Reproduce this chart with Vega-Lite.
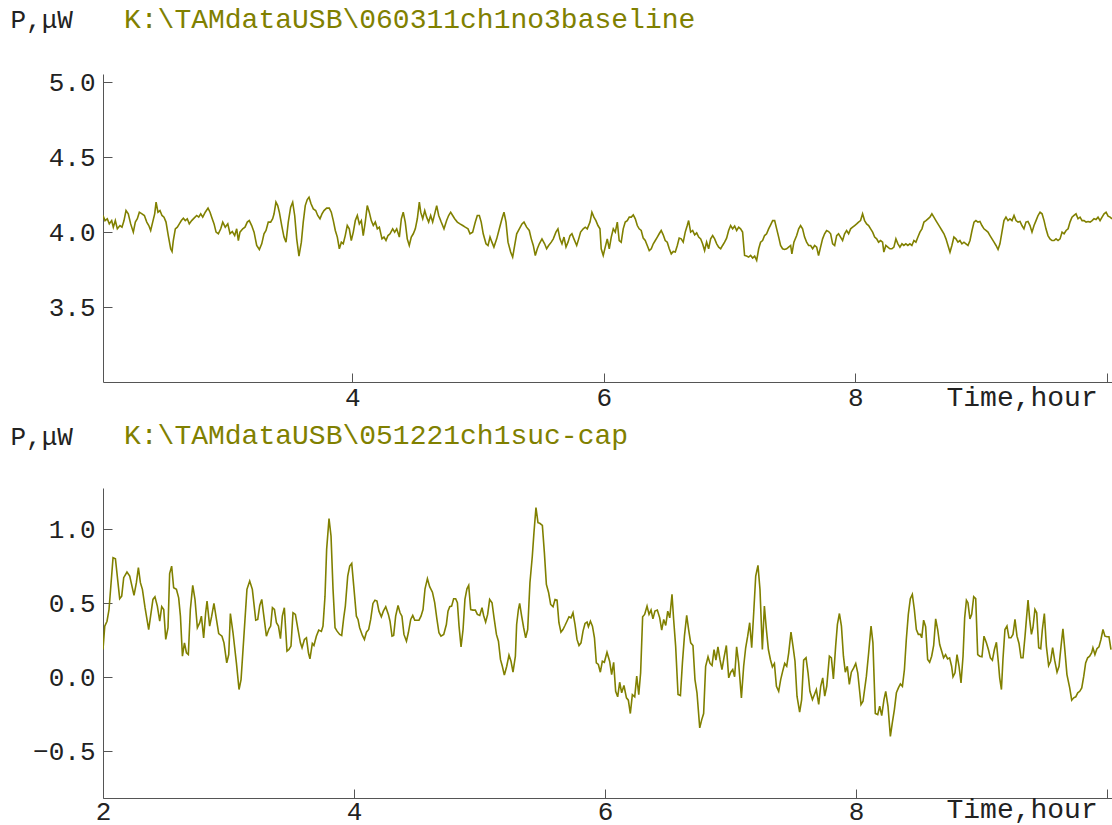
{
"$schema": "https://vega.github.io/schema/vega-lite/v6.json",
"background": "white",
"padding": {"left": 10, "top": 6, "right": 0, "bottom": 0},
"spacing": 11,
"config": {
  "view": {"stroke": null},
  "font": "Liberation Mono",
  "axis": {"domainColor": "#555555", "tickColor": "#555555", "labelFont": "Liberation Mono", "labelFontSize": 26, "labelColor": "#222222", "grid": false, "tickSize": -9, "titleFont": "Liberation Mono", "titleFontSize": 26, "titleFontWeight": "normal", "titleColor": "#222222", "domainWidth": 1, "tickWidth": 1, "labelFlush": false, "labelOverlap": false}
},
"datasets": {
"top": [{"t":2.018,"p":4.111},{"t":2.034,"p":4.077},{"t":2.052,"p":4.089},{"t":2.068,"p":4.055},{"t":2.087,"p":4.077},{"t":2.100,"p":4.033},{"t":2.116,"p":4.077},{"t":2.132,"p":4.022},{"t":2.153,"p":4.044},{"t":2.169,"p":4.033},{"t":2.185,"p":4.077},{"t":2.201,"p":4.144},{"t":2.219,"p":4.122},{"t":2.238,"p":4.055},{"t":2.259,"p":4.000},{"t":2.275,"p":4.067},{"t":2.291,"p":4.089},{"t":2.307,"p":4.133},{"t":2.328,"p":4.122},{"t":2.347,"p":4.111},{"t":2.366,"p":4.067},{"t":2.382,"p":4.044},{"t":2.397,"p":4.011},{"t":2.413,"p":4.067},{"t":2.429,"p":4.122},{"t":2.440,"p":4.200},{"t":2.455,"p":4.133},{"t":2.471,"p":4.144},{"t":2.487,"p":4.111},{"t":2.503,"p":4.100},{"t":2.519,"p":4.067},{"t":2.537,"p":3.977},{"t":2.556,"p":3.889},{"t":2.567,"p":3.871},{"t":2.577,"p":3.944},{"t":2.593,"p":4.022},{"t":2.609,"p":4.033},{"t":2.625,"p":4.055},{"t":2.641,"p":4.077},{"t":2.657,"p":4.093},{"t":2.672,"p":4.077},{"t":2.688,"p":4.089},{"t":2.704,"p":4.055},{"t":2.723,"p":4.077},{"t":2.742,"p":4.093},{"t":2.763,"p":4.111},{"t":2.779,"p":4.100},{"t":2.795,"p":4.122},{"t":2.811,"p":4.100},{"t":2.831,"p":4.133},{"t":2.853,"p":4.160},{"t":2.869,"p":4.133},{"t":2.885,"p":4.093},{"t":2.901,"p":4.055},{"t":2.917,"p":4.000},{"t":2.935,"p":3.989},{"t":2.954,"p":4.022},{"t":2.970,"p":4.067},{"t":2.990,"p":4.033},{"t":3.010,"p":4.055},{"t":3.028,"p":3.989},{"t":3.046,"p":4.004},{"t":3.065,"p":3.977},{"t":3.081,"p":4.022},{"t":3.094,"p":3.944},{"t":3.107,"p":4.000},{"t":3.129,"p":4.022},{"t":3.147,"p":4.033},{"t":3.165,"p":4.067},{"t":3.181,"p":4.077},{"t":3.200,"p":4.044},{"t":3.219,"p":4.000},{"t":3.240,"p":3.911},{"t":3.261,"p":3.884},{"t":3.280,"p":3.922},{"t":3.298,"p":3.989},{"t":3.314,"p":4.011},{"t":3.332,"p":4.067},{"t":3.351,"p":4.067},{"t":3.367,"p":4.089},{"t":3.378,"p":4.122},{"t":3.393,"p":4.200},{"t":3.407,"p":4.177},{"t":3.420,"p":4.133},{"t":3.439,"p":4.044},{"t":3.457,"p":3.967},{"t":3.473,"p":3.933},{"t":3.491,"p":4.067},{"t":3.510,"p":4.167},{"t":3.526,"p":4.200},{"t":3.542,"p":4.111},{"t":3.558,"p":3.955},{"t":3.576,"p":3.840},{"t":3.595,"p":3.933},{"t":3.610,"p":4.067},{"t":3.626,"p":4.177},{"t":3.642,"p":4.217},{"t":3.656,"p":4.233},{"t":3.672,"p":4.189},{"t":3.690,"p":4.155},{"t":3.709,"p":4.144},{"t":3.725,"p":4.111},{"t":3.743,"p":4.089},{"t":3.759,"p":4.122},{"t":3.775,"p":4.144},{"t":3.796,"p":4.160},{"t":3.817,"p":4.160},{"t":3.833,"p":4.133},{"t":3.849,"p":4.077},{"t":3.865,"p":4.011},{"t":3.881,"p":3.967},{"t":3.897,"p":3.889},{"t":3.913,"p":3.933},{"t":3.928,"p":3.922},{"t":3.944,"p":3.977},{"t":3.960,"p":4.044},{"t":3.976,"p":4.022},{"t":3.992,"p":3.944},{"t":4.008,"p":4.000},{"t":4.024,"p":4.077},{"t":4.040,"p":4.111},{"t":4.056,"p":4.055},{"t":4.072,"p":4.077},{"t":4.087,"p":3.977},{"t":4.103,"p":4.067},{"t":4.119,"p":4.177},{"t":4.135,"p":4.133},{"t":4.151,"p":4.077},{"t":4.167,"p":4.044},{"t":4.183,"p":4.067},{"t":4.199,"p":4.022},{"t":4.215,"p":4.033},{"t":4.236,"p":3.955},{"t":4.252,"p":3.967},{"t":4.268,"p":3.944},{"t":4.284,"p":3.977},{"t":4.300,"p":3.989},{"t":4.321,"p":4.022},{"t":4.337,"p":4.000},{"t":4.353,"p":4.022},{"t":4.374,"p":3.967},{"t":4.390,"p":4.089},{"t":4.405,"p":4.133},{"t":4.421,"p":4.067},{"t":4.437,"p":3.955},{"t":4.453,"p":3.911},{"t":4.469,"p":3.967},{"t":4.485,"p":3.989},{"t":4.501,"p":4.022},{"t":4.517,"p":4.089},{"t":4.533,"p":4.200},{"t":4.544,"p":4.133},{"t":4.560,"p":4.089},{"t":4.576,"p":4.144},{"t":4.591,"p":4.100},{"t":4.607,"p":4.067},{"t":4.623,"p":4.111},{"t":4.639,"p":4.067},{"t":4.655,"p":4.122},{"t":4.671,"p":4.177},{"t":4.687,"p":4.111},{"t":4.707,"p":4.067},{"t":4.729,"p":4.022},{"t":4.750,"p":4.077},{"t":4.766,"p":4.111},{"t":4.782,"p":4.133},{"t":4.798,"p":4.111},{"t":4.814,"p":4.089},{"t":4.835,"p":4.067},{"t":4.856,"p":4.055},{"t":4.878,"p":4.044},{"t":4.898,"p":4.033},{"t":4.920,"p":4.022},{"t":4.936,"p":3.989},{"t":4.957,"p":4.000},{"t":4.978,"p":4.067},{"t":4.994,"p":4.111},{"t":5.010,"p":4.111},{"t":5.025,"p":4.067},{"t":5.041,"p":3.989},{"t":5.063,"p":3.922},{"t":5.079,"p":3.911},{"t":5.095,"p":3.967},{"t":5.110,"p":3.933},{"t":5.126,"p":3.900},{"t":5.148,"p":3.955},{"t":5.169,"p":4.022},{"t":5.190,"p":4.089},{"t":5.206,"p":4.133},{"t":5.222,"p":4.067},{"t":5.238,"p":3.933},{"t":5.259,"p":3.867},{"t":5.275,"p":3.833},{"t":5.291,"p":3.911},{"t":5.307,"p":3.989},{"t":5.328,"p":4.022},{"t":5.349,"p":4.055},{"t":5.365,"p":4.067},{"t":5.386,"p":4.033},{"t":5.407,"p":4.011},{"t":5.423,"p":3.955},{"t":5.439,"p":3.911},{"t":5.455,"p":3.844},{"t":5.471,"p":3.889},{"t":5.487,"p":3.922},{"t":5.508,"p":3.955},{"t":5.529,"p":3.922},{"t":5.545,"p":3.889},{"t":5.561,"p":3.911},{"t":5.582,"p":3.933},{"t":5.598,"p":3.955},{"t":5.619,"p":4.000},{"t":5.635,"p":4.022},{"t":5.651,"p":3.955},{"t":5.667,"p":3.922},{"t":5.683,"p":3.967},{"t":5.699,"p":3.900},{"t":5.715,"p":3.933},{"t":5.731,"p":3.977},{"t":5.746,"p":3.989},{"t":5.762,"p":3.955},{"t":5.784,"p":3.911},{"t":5.800,"p":3.955},{"t":5.815,"p":4.000},{"t":5.836,"p":4.022},{"t":5.852,"p":4.033},{"t":5.868,"p":4.022},{"t":5.890,"p":4.067},{"t":5.905,"p":4.133},{"t":5.921,"p":4.100},{"t":5.937,"p":4.077},{"t":5.953,"p":4.044},{"t":5.969,"p":4.022},{"t":5.979,"p":3.889},{"t":5.995,"p":3.844},{"t":6.011,"p":3.900},{"t":6.027,"p":3.955},{"t":6.043,"p":3.889},{"t":6.059,"p":3.967},{"t":6.075,"p":4.022},{"t":6.091,"p":4.000},{"t":6.107,"p":4.067},{"t":6.122,"p":3.944},{"t":6.138,"p":3.933},{"t":6.154,"p":4.022},{"t":6.170,"p":4.067},{"t":6.186,"p":4.077},{"t":6.202,"p":4.100},{"t":6.218,"p":4.100},{"t":6.234,"p":4.115},{"t":6.250,"p":4.089},{"t":6.266,"p":4.044},{"t":6.281,"p":4.022},{"t":6.297,"p":4.011},{"t":6.313,"p":3.960},{"t":6.329,"p":3.944},{"t":6.345,"p":3.911},{"t":6.361,"p":3.877},{"t":6.377,"p":3.889},{"t":6.393,"p":3.922},{"t":6.409,"p":3.944},{"t":6.425,"p":3.967},{"t":6.440,"p":3.989},{"t":6.456,"p":4.011},{"t":6.472,"p":3.982},{"t":6.488,"p":3.944},{"t":6.504,"p":3.933},{"t":6.520,"p":3.889},{"t":6.536,"p":3.855},{"t":6.552,"p":3.871},{"t":6.568,"p":3.867},{"t":6.584,"p":3.911},{"t":6.599,"p":3.960},{"t":6.615,"p":3.955},{"t":6.631,"p":3.933},{"t":6.647,"p":4.000},{"t":6.663,"p":4.044},{"t":6.674,"p":4.077},{"t":6.690,"p":4.000},{"t":6.706,"p":4.011},{"t":6.722,"p":3.982},{"t":6.738,"p":3.995},{"t":6.754,"p":3.967},{"t":6.770,"p":3.955},{"t":6.785,"p":3.922},{"t":6.801,"p":3.877},{"t":6.817,"p":3.933},{"t":6.833,"p":3.889},{"t":6.849,"p":3.955},{"t":6.865,"p":3.977},{"t":6.881,"p":3.955},{"t":6.897,"p":3.922},{"t":6.913,"p":3.900},{"t":6.929,"p":3.889},{"t":6.944,"p":3.911},{"t":6.960,"p":3.933},{"t":6.976,"p":3.960},{"t":6.992,"p":4.011},{"t":7.008,"p":4.044},{"t":7.024,"p":4.022},{"t":7.040,"p":4.040},{"t":7.056,"p":4.011},{"t":7.072,"p":4.033},{"t":7.087,"p":4.022},{"t":7.103,"p":4.000},{"t":7.119,"p":3.844},{"t":7.135,"p":3.840},{"t":7.151,"p":3.833},{"t":7.167,"p":3.844},{"t":7.183,"p":3.827},{"t":7.199,"p":3.840},{"t":7.215,"p":3.811},{"t":7.231,"p":3.889},{"t":7.246,"p":3.933},{"t":7.262,"p":3.944},{"t":7.278,"p":3.977},{"t":7.294,"p":3.989},{"t":7.310,"p":4.022},{"t":7.326,"p":4.049},{"t":7.342,"p":4.077},{"t":7.358,"p":4.077},{"t":7.374,"p":4.022},{"t":7.390,"p":3.967},{"t":7.405,"p":3.911},{"t":7.421,"p":3.889},{"t":7.437,"p":3.884},{"t":7.453,"p":3.889},{"t":7.469,"p":3.900},{"t":7.485,"p":3.911},{"t":7.495,"p":3.855},{"t":7.511,"p":3.933},{"t":7.533,"p":3.977},{"t":7.549,"p":4.022},{"t":7.564,"p":4.044},{"t":7.580,"p":4.022},{"t":7.596,"p":3.967},{"t":7.612,"p":3.933},{"t":7.628,"p":3.911},{"t":7.644,"p":3.911},{"t":7.660,"p":3.889},{"t":7.676,"p":3.911},{"t":7.692,"p":3.900},{"t":7.707,"p":3.844},{"t":7.723,"p":3.900},{"t":7.739,"p":3.955},{"t":7.755,"p":3.989},{"t":7.771,"p":4.011},{"t":7.787,"p":4.004},{"t":7.803,"p":3.989},{"t":7.819,"p":3.922},{"t":7.835,"p":3.911},{"t":7.851,"p":3.977},{"t":7.866,"p":3.989},{"t":7.882,"p":3.967},{"t":7.898,"p":3.944},{"t":7.914,"p":3.989},{"t":7.930,"p":4.011},{"t":7.946,"p":3.989},{"t":7.962,"p":4.022},{"t":7.978,"p":4.033},{"t":7.994,"p":4.044},{"t":8.010,"p":4.055},{"t":8.025,"p":4.067},{"t":8.041,"p":4.077},{"t":8.057,"p":4.122},{"t":8.073,"p":4.077},{"t":8.089,"p":4.055},{"t":8.105,"p":4.044},{"t":8.121,"p":4.022},{"t":8.137,"p":4.000},{"t":8.153,"p":3.967},{"t":8.169,"p":3.955},{"t":8.184,"p":3.933},{"t":8.200,"p":3.944},{"t":8.216,"p":3.933},{"t":8.226,"p":3.867},{"t":8.242,"p":3.911},{"t":8.258,"p":3.900},{"t":8.274,"p":3.889},{"t":8.290,"p":3.889},{"t":8.306,"p":3.900},{"t":8.322,"p":3.955},{"t":8.338,"p":3.922},{"t":8.354,"p":3.900},{"t":8.370,"p":3.922},{"t":8.385,"p":3.911},{"t":8.401,"p":3.922},{"t":8.417,"p":3.911},{"t":8.433,"p":3.922},{"t":8.449,"p":3.911},{"t":8.465,"p":3.944},{"t":8.481,"p":3.933},{"t":8.497,"p":3.967},{"t":8.513,"p":4.000},{"t":8.529,"p":4.022},{"t":8.545,"p":4.067},{"t":8.561,"p":4.077},{"t":8.577,"p":4.089},{"t":8.592,"p":4.100},{"t":8.608,"p":4.122},{"t":8.624,"p":4.100},{"t":8.640,"p":4.077},{"t":8.656,"p":4.055},{"t":8.672,"p":4.033},{"t":8.688,"p":4.011},{"t":8.704,"p":3.989},{"t":8.720,"p":3.955},{"t":8.736,"p":3.911},{"t":8.752,"p":3.867},{"t":8.767,"p":3.911},{"t":8.783,"p":3.967},{"t":8.799,"p":3.955},{"t":8.815,"p":3.933},{"t":8.831,"p":3.944},{"t":8.847,"p":3.922},{"t":8.863,"p":3.933},{"t":8.879,"p":3.922},{"t":8.895,"p":3.911},{"t":8.911,"p":3.944},{"t":8.927,"p":4.011},{"t":8.943,"p":4.067},{"t":8.958,"p":4.077},{"t":8.974,"p":4.067},{"t":8.990,"p":4.071},{"t":9.006,"p":4.044},{"t":9.022,"p":4.022},{"t":9.038,"p":4.011},{"t":9.054,"p":4.000},{"t":9.070,"p":3.977},{"t":9.086,"p":3.955},{"t":9.102,"p":3.933},{"t":9.118,"p":3.911},{"t":9.134,"p":3.884},{"t":9.149,"p":3.922},{"t":9.165,"p":4.000},{"t":9.181,"p":4.077},{"t":9.197,"p":4.100},{"t":9.213,"p":4.077},{"t":9.229,"p":4.089},{"t":9.245,"p":4.077},{"t":9.261,"p":4.111},{"t":9.277,"p":4.077},{"t":9.293,"p":4.067},{"t":9.309,"p":4.071},{"t":9.324,"p":4.044},{"t":9.340,"p":4.022},{"t":9.356,"p":4.067},{"t":9.372,"p":4.071},{"t":9.388,"p":4.044},{"t":9.404,"p":4.000},{"t":9.420,"p":4.044},{"t":9.436,"p":4.077},{"t":9.452,"p":4.111},{"t":9.468,"p":4.133},{"t":9.484,"p":4.122},{"t":9.500,"p":4.077},{"t":9.515,"p":4.022},{"t":9.531,"p":3.977},{"t":9.547,"p":3.955},{"t":9.563,"p":3.944},{"t":9.579,"p":3.944},{"t":9.595,"p":3.955},{"t":9.611,"p":3.944},{"t":9.627,"p":3.955},{"t":9.643,"p":4.000},{"t":9.659,"p":3.989},{"t":9.675,"p":4.011},{"t":9.691,"p":4.022},{"t":9.706,"p":4.067},{"t":9.722,"p":4.100},{"t":9.738,"p":4.111},{"t":9.754,"p":4.122},{"t":9.770,"p":4.089},{"t":9.786,"p":4.100},{"t":9.802,"p":4.077},{"t":9.818,"p":4.077},{"t":9.834,"p":4.067},{"t":9.850,"p":4.071},{"t":9.866,"p":4.067},{"t":9.882,"p":4.077},{"t":9.897,"p":4.089},{"t":9.913,"p":4.084},{"t":9.929,"p":4.100},{"t":9.945,"p":4.077},{"t":9.961,"p":4.100},{"t":9.977,"p":4.122},{"t":9.993,"p":4.133},{"t":10.009,"p":4.107},{"t":10.025,"p":4.100},{"t":10.040,"p":4.089}],
"bot": [{"t":2.0,"p":0.187},{"t":2.014,"p":0.345},{"t":2.032,"p":0.378},{"t":2.048,"p":0.457},{"t":2.080,"p":0.807},{"t":2.099,"p":0.800},{"t":2.133,"p":0.530},{"t":2.149,"p":0.547},{"t":2.165,"p":0.672},{"t":2.191,"p":0.710},{"t":2.213,"p":0.683},{"t":2.247,"p":0.552},{"t":2.266,"p":0.638},{"t":2.282,"p":0.739},{"t":2.298,"p":0.638},{"t":2.314,"p":0.593},{"t":2.335,"p":0.469},{"t":2.364,"p":0.322},{"t":2.398,"p":0.525},{"t":2.414,"p":0.543},{"t":2.433,"p":0.480},{"t":2.452,"p":0.378},{"t":2.468,"p":0.476},{"t":2.484,"p":0.457},{"t":2.500,"p":0.255},{"t":2.518,"p":0.334},{"t":2.531,"p":0.700},{"t":2.547,"p":0.750},{"t":2.563,"p":0.604},{"t":2.585,"p":0.593},{"t":2.603,"p":0.536},{"t":2.617,"p":0.412},{"t":2.633,"p":0.142},{"t":2.649,"p":0.232},{"t":2.665,"p":0.165},{"t":2.680,"p":0.153},{"t":2.696,"p":0.457},{"t":2.715,"p":0.620},{"t":2.733,"p":0.525},{"t":2.752,"p":0.334},{"t":2.771,"p":0.368},{"t":2.784,"p":0.412},{"t":2.802,"p":0.266},{"t":2.818,"p":0.435},{"t":2.829,"p":0.514},{"t":2.850,"p":0.345},{"t":2.866,"p":0.412},{"t":2.884,"p":0.498},{"t":2.904,"p":0.390},{"t":2.922,"p":0.295},{"t":2.948,"p":0.277},{"t":2.964,"p":0.232},{"t":2.986,"p":0.097},{"t":3.002,"p":0.153},{"t":3.015,"p":0.430},{"t":3.036,"p":0.300},{"t":3.063,"p":0.097},{"t":3.084,"p":-0.083},{"t":3.100,"p":-0.016},{"t":3.121,"p":0.255},{"t":3.147,"p":0.593},{"t":3.169,"p":0.649},{"t":3.190,"p":0.593},{"t":3.217,"p":0.385},{"t":3.233,"p":0.390},{"t":3.249,"p":0.484},{"t":3.265,"p":0.525},{"t":3.280,"p":0.424},{"t":3.302,"p":0.277},{"t":3.323,"p":0.327},{"t":3.336,"p":0.345},{"t":3.350,"p":0.469},{"t":3.366,"p":0.457},{"t":3.382,"p":0.368},{"t":3.398,"p":0.345},{"t":3.414,"p":0.260},{"t":3.429,"p":0.412},{"t":3.445,"p":0.469},{"t":3.466,"p":0.176},{"t":3.482,"p":0.187},{"t":3.498,"p":0.210},{"t":3.514,"p":0.435},{"t":3.533,"p":0.424},{"t":3.554,"p":0.322},{"t":3.573,"p":0.232},{"t":3.586,"p":0.199},{"t":3.605,"p":0.255},{"t":3.621,"p":0.266},{"t":3.637,"p":0.165},{"t":3.649,"p":0.124},{"t":3.668,"p":0.228},{"t":3.681,"p":0.214},{"t":3.700,"p":0.277},{"t":3.719,"p":0.318},{"t":3.740,"p":0.309},{"t":3.753,"p":0.345},{"t":3.769,"p":0.547},{"t":3.782,"p":0.863},{"t":3.801,"p":1.070},{"t":3.817,"p":0.953},{"t":3.833,"p":0.593},{"t":3.849,"p":0.334},{"t":3.865,"p":0.311},{"t":3.886,"p":0.289},{"t":3.902,"p":0.282},{"t":3.918,"p":0.401},{"t":3.931,"p":0.480},{"t":3.950,"p":0.683},{"t":3.966,"p":0.750},{"t":3.982,"p":0.768},{"t":3.998,"p":0.615},{"t":4.019,"p":0.412},{"t":4.032,"p":0.390},{"t":4.045,"p":0.334},{"t":4.067,"p":0.282},{"t":4.083,"p":0.255},{"t":4.099,"p":0.304},{"t":4.117,"p":0.322},{"t":4.133,"p":0.390},{"t":4.151,"p":0.498},{"t":4.167,"p":0.520},{"t":4.183,"p":0.514},{"t":4.199,"p":0.446},{"t":4.218,"p":0.408},{"t":4.234,"p":0.446},{"t":4.253,"p":0.476},{"t":4.274,"p":0.424},{"t":4.287,"p":0.378},{"t":4.303,"p":0.277},{"t":4.316,"p":0.282},{"t":4.332,"p":0.412},{"t":4.351,"p":0.484},{"t":4.367,"p":0.435},{"t":4.382,"p":0.412},{"t":4.398,"p":0.289},{"t":4.418,"p":0.243},{"t":4.433,"p":0.300},{"t":4.452,"p":0.390},{"t":4.468,"p":0.417},{"t":4.484,"p":0.385},{"t":4.518,"p":0.385},{"t":4.534,"p":0.412},{"t":4.550,"p":0.457},{"t":4.566,"p":0.597},{"t":4.585,"p":0.665},{"t":4.603,"p":0.611},{"t":4.625,"p":0.574},{"t":4.643,"p":0.503},{"t":4.661,"p":0.390},{"t":4.677,"p":0.300},{"t":4.693,"p":0.277},{"t":4.715,"p":0.289},{"t":4.736,"p":0.356},{"t":4.749,"p":0.446},{"t":4.763,"p":0.476},{"t":4.778,"p":0.480},{"t":4.794,"p":0.530},{"t":4.810,"p":0.530},{"t":4.824,"p":0.503},{"t":4.837,"p":0.345},{"t":4.853,"p":0.205},{"t":4.869,"p":0.322},{"t":4.884,"p":0.525},{"t":4.900,"p":0.597},{"t":4.914,"p":0.620},{"t":4.930,"p":0.457},{"t":4.948,"p":0.453},{"t":4.967,"p":0.453},{"t":4.983,"p":0.424},{"t":5.002,"p":0.417},{"t":5.020,"p":0.469},{"t":5.033,"p":0.417},{"t":5.049,"p":0.372},{"t":5.065,"p":0.424},{"t":5.081,"p":0.525},{"t":5.100,"p":0.503},{"t":5.116,"p":0.401},{"t":5.135,"p":0.289},{"t":5.151,"p":0.243},{"t":5.167,"p":0.120},{"t":5.182,"p":0.074},{"t":5.198,"p":0.014},{"t":5.217,"p":0.074},{"t":5.235,"p":0.149},{"t":5.251,"p":0.108},{"t":5.267,"p":0.034},{"t":5.286,"p":0.142},{"t":5.296,"p":0.356},{"t":5.310,"p":0.457},{"t":5.320,"p":0.498},{"t":5.336,"p":0.412},{"t":5.352,"p":0.334},{"t":5.368,"p":0.266},{"t":5.384,"p":0.322},{"t":5.402,"p":0.638},{"t":5.421,"p":0.818},{"t":5.434,"p":0.976},{"t":5.450,"p":1.145},{"t":5.466,"p":1.043},{"t":5.480,"p":1.039},{"t":5.501,"p":1.025},{"t":5.517,"p":0.841},{"t":5.533,"p":0.626},{"t":5.551,"p":0.570},{"t":5.567,"p":0.491},{"t":5.586,"p":0.476},{"t":5.602,"p":0.525},{"t":5.618,"p":0.520},{"t":5.633,"p":0.368},{"t":5.649,"p":0.304},{"t":5.665,"p":0.322},{"t":5.681,"p":0.349},{"t":5.697,"p":0.378},{"t":5.713,"p":0.408},{"t":5.729,"p":0.401},{"t":5.745,"p":0.435},{"t":5.761,"p":0.356},{"t":5.777,"p":0.255},{"t":5.793,"p":0.214},{"t":5.809,"p":0.232},{"t":5.825,"p":0.311},{"t":5.841,"p":0.363},{"t":5.857,"p":0.372},{"t":5.868,"p":0.341},{"t":5.884,"p":0.378},{"t":5.900,"p":0.345},{"t":5.916,"p":0.266},{"t":5.931,"p":0.097},{"t":5.947,"p":0.086},{"t":5.963,"p":0.034},{"t":5.979,"p":0.108},{"t":5.995,"p":0.101},{"t":6.016,"p":0.169},{"t":6.037,"p":0.108},{"t":6.053,"p":0.018},{"t":6.069,"p":0.101},{"t":6.085,"p":-0.095},{"t":6.101,"p":-0.132},{"t":6.117,"p":-0.034},{"t":6.133,"p":-0.105},{"t":6.151,"p":-0.056},{"t":6.171,"p":-0.139},{"t":6.186,"p":-0.155},{"t":6.202,"p":-0.245},{"t":6.218,"p":-0.117},{"t":6.237,"p":-0.132},{"t":6.253,"p":0.007},{"t":6.269,"p":-0.117},{"t":6.284,"p":0.030},{"t":6.300,"p":0.408},{"t":6.316,"p":0.424},{"t":6.335,"p":0.480},{"t":6.351,"p":0.424},{"t":6.367,"p":0.453},{"t":6.382,"p":0.394},{"t":6.398,"p":0.446},{"t":6.417,"p":0.453},{"t":6.436,"p":0.401},{"t":6.452,"p":0.318},{"t":6.468,"p":0.390},{"t":6.484,"p":0.349},{"t":6.500,"p":0.446},{"t":6.516,"p":0.401},{"t":6.534,"p":0.559},{"t":6.547,"p":0.390},{"t":6.563,"p":0.210},{"t":6.582,"p":-0.117},{"t":6.601,"p":-0.124},{"t":6.617,"p":0.097},{"t":6.633,"p":0.277},{"t":6.651,"p":0.417},{"t":6.667,"p":0.318},{"t":6.683,"p":0.232},{"t":6.701,"p":0.214},{"t":6.717,"p":-0.016},{"t":6.733,"p":-0.105},{"t":6.755,"p":-0.342},{"t":6.771,"p":-0.286},{"t":6.786,"p":-0.245},{"t":6.802,"p":0.074},{"t":6.821,"p":0.138},{"t":6.837,"p":0.093},{"t":6.853,"p":0.079},{"t":6.869,"p":0.187},{"t":6.884,"p":0.115},{"t":6.900,"p":0.205},{"t":6.916,"p":0.120},{"t":6.932,"p":0.052},{"t":6.948,"p":0.131},{"t":6.967,"p":0.214},{"t":6.986,"p":-0.004},{"t":7.002,"p":0.034},{"t":7.018,"p":0.052},{"t":7.033,"p":0.003},{"t":7.049,"p":0.205},{"t":7.065,"p":0.097},{"t":7.087,"p":-0.139},{"t":7.105,"p":0.074},{"t":7.121,"p":0.199},{"t":7.137,"p":0.277},{"t":7.153,"p":0.368},{"t":7.169,"p":0.199},{"t":7.185,"p":0.435},{"t":7.201,"p":0.683},{"t":7.219,"p":0.755},{"t":7.235,"p":0.593},{"t":7.254,"p":0.187},{"t":7.270,"p":0.480},{"t":7.286,"p":0.322},{"t":7.302,"p":0.187},{"t":7.318,"p":0.120},{"t":7.334,"p":0.070},{"t":7.350,"p":0.093},{"t":7.366,"p":-0.061},{"t":7.384,"p":-0.095},{"t":7.400,"p":-0.016},{"t":7.416,"p":0.041},{"t":7.432,"p":0.093},{"t":7.448,"p":0.074},{"t":7.464,"p":0.165},{"t":7.482,"p":0.304},{"t":7.498,"p":0.210},{"t":7.514,"p":0.108},{"t":7.530,"p":-0.128},{"t":7.551,"p":-0.236},{"t":7.567,"p":-0.151},{"t":7.583,"p":0.115},{"t":7.602,"p":0.131},{"t":7.618,"p":0.030},{"t":7.633,"p":-0.095},{"t":7.653,"p":-0.151},{"t":7.669,"p":-0.117},{"t":7.684,"p":-0.083},{"t":7.703,"p":-0.184},{"t":7.719,"p":-0.061},{"t":7.735,"p":-0.004},{"t":7.751,"p":-0.128},{"t":7.767,"p":-0.061},{"t":7.788,"p":0.142},{"t":7.804,"p":0.131},{"t":7.820,"p":-0.011},{"t":7.838,"p":0.210},{"t":7.852,"p":0.356},{"t":7.868,"p":0.430},{"t":7.884,"p":0.345},{"t":7.900,"p":0.142},{"t":7.915,"p":0.034},{"t":7.931,"p":0.074},{"t":7.947,"p":-0.049},{"t":7.963,"p":0.034},{"t":7.982,"p":0.063},{"t":7.998,"p":0.093},{"t":8.014,"p":0.030},{"t":8.040,"p":-0.184},{"t":8.056,"p":-0.162},{"t":8.083,"p":0.007},{"t":8.101,"p":0.165},{"t":8.120,"p":0.345},{"t":8.135,"p":0.232},{"t":8.154,"p":-0.245},{"t":8.173,"p":-0.252},{"t":8.189,"p":-0.196},{"t":8.205,"p":-0.259},{"t":8.223,"p":-0.151},{"t":8.237,"p":-0.095},{"t":8.255,"p":-0.196},{"t":8.274,"p":-0.399},{"t":8.290,"p":-0.304},{"t":8.306,"p":-0.218},{"t":8.322,"p":-0.105},{"t":8.338,"p":-0.072},{"t":8.354,"p":-0.045},{"t":8.370,"p":-0.061},{"t":8.386,"p":0.052},{"t":8.401,"p":0.255},{"t":8.417,"p":0.424},{"t":8.433,"p":0.530},{"t":8.449,"p":0.559},{"t":8.465,"p":0.457},{"t":8.481,"p":0.322},{"t":8.497,"p":0.289},{"t":8.513,"p":0.289},{"t":8.524,"p":0.266},{"t":8.539,"p":0.385},{"t":8.555,"p":0.341},{"t":8.571,"p":0.120},{"t":8.587,"p":0.101},{"t":8.603,"p":0.142},{"t":8.619,"p":0.214},{"t":8.635,"p":0.394},{"t":8.651,"p":0.322},{"t":8.667,"p":0.221},{"t":8.683,"p":0.176},{"t":8.698,"p":0.131},{"t":8.714,"p":0.153},{"t":8.730,"p":0.124},{"t":8.746,"p":0.131},{"t":8.762,"p":0.074},{"t":8.773,"p":0.003},{"t":8.789,"p":0.030},{"t":8.805,"p":0.153},{"t":8.821,"p":0.074},{"t":8.837,"p":-0.038},{"t":8.853,"p":0.142},{"t":8.866,"p":0.401},{"t":8.880,"p":0.520},{"t":8.892,"p":0.503},{"t":8.908,"p":0.394},{"t":8.922,"p":0.424},{"t":8.938,"p":0.543},{"t":8.954,"p":0.530},{"t":8.970,"p":0.153},{"t":8.986,"p":0.142},{"t":9.004,"p":0.138},{"t":9.020,"p":0.277},{"t":9.039,"p":0.232},{"t":9.055,"p":0.187},{"t":9.071,"p":0.131},{"t":9.087,"p":0.115},{"t":9.103,"p":0.187},{"t":9.119,"p":0.236},{"t":9.135,"p":0.097},{"t":9.145,"p":-0.004},{"t":9.159,"p":-0.083},{"t":9.171,"p":0.120},{"t":9.187,"p":0.322},{"t":9.203,"p":0.345},{"t":9.219,"p":0.266},{"t":9.235,"p":0.266},{"t":9.251,"p":0.289},{"t":9.267,"p":0.390},{"t":9.283,"p":0.277},{"t":9.299,"p":0.228},{"t":9.315,"p":0.131},{"t":9.331,"p":0.131},{"t":9.347,"p":0.277},{"t":9.358,"p":0.390},{"t":9.371,"p":0.520},{"t":9.384,"p":0.390},{"t":9.398,"p":0.289},{"t":9.410,"p":0.334},{"t":9.426,"p":0.457},{"t":9.440,"p":0.435},{"t":9.456,"p":0.199},{"t":9.472,"p":0.192},{"t":9.485,"p":0.322},{"t":9.501,"p":0.430},{"t":9.517,"p":0.210},{"t":9.535,"p":0.079},{"t":9.551,"p":0.108},{"t":9.567,"p":0.199},{"t":9.583,"p":0.115},{"t":9.602,"p":0.034},{"t":9.618,"p":0.074},{"t":9.634,"p":0.210},{"t":9.649,"p":0.327},{"t":9.665,"p":0.176},{"t":9.681,"p":0.018},{"t":9.703,"p":-0.072},{"t":9.719,"p":-0.155},{"t":9.735,"p":-0.139},{"t":9.751,"p":-0.132},{"t":9.767,"p":-0.105},{"t":9.783,"p":-0.095},{"t":9.799,"p":-0.072},{"t":9.815,"p":0.007},{"t":9.830,"p":0.097},{"t":9.846,"p":0.131},{"t":9.862,"p":0.142},{"t":9.878,"p":0.165},{"t":9.888,"p":0.199},{"t":9.904,"p":0.153},{"t":9.920,"p":0.192},{"t":9.936,"p":0.205},{"t":9.952,"p":0.255},{"t":9.968,"p":0.322},{"t":9.984,"p":0.277},{"t":10.000,"p":0.273},{"t":10.016,"p":0.273},{"t":10.032,"p":0.187}]
},
"vconcat": [
 {
  "width": 1009, "height": 308,
  "data": {"name": "top"},
  "title": {"text": "K:\\TAMdataUSB\\060311ch1no3baseline", "anchor": "start", "frame": "group", "dx": 21, "offset": -28, "color": "#808000", "font": "Liberation Mono", "fontSize": 28, "fontWeight": "normal"},
  "mark": {"type": "line", "color": "#808000", "strokeWidth": 1.6, "clip": true},
  "encoding": {
   "x": {"field": "t", "type": "quantitative", "scale": {"domain": [2.018, 10.04], "nice": false, "zero": false},
     "axis": {"values": [4, 6, 8, 10], "format": "d", "labelExpr": "datum.value == 10 ? '' : datum.label", "labelPadding": 11, "title": "Time,hour", "titleFontSize": 28, "titleX": 843, "titleY": 23, "titleAlign": "left", "titleBaseline": "alphabetic"}},
   "y": {"field": "p", "type": "quantitative", "scale": {"domain": [3.0, 5.055], "nice": false, "zero": false},
     "axis": {"values": [3.5, 4, 4.5, 5], "format": ".1f", "labelPadding": 17, "title": "P,μW", "titleAngle": 0, "titleX": -93, "titleY": -47, "titleAlign": "left", "titleBaseline": "alphabetic"}}
  }
 },
 {
  "width": 1009, "height": 310,
  "data": {"name": "bot"},
  "title": {"text": "K:\\TAMdataUSB\\051221ch1suc-cap", "anchor": "start", "frame": "group", "dx": 21, "offset": -27, "color": "#808000", "font": "Liberation Mono", "fontSize": 28, "fontWeight": "normal"},
  "mark": {"type": "line", "color": "#808000", "strokeWidth": 1.6, "clip": true},
  "encoding": {
   "x": {"field": "t", "type": "quantitative", "scale": {"domain": [2.0, 10.04], "nice": false, "zero": false},
     "axis": {"values": [2, 4, 6, 8, 10], "format": "d", "labelExpr": "datum.value == 10 ? '' : datum.label", "labelPadding": 9, "title": "Time,hour", "titleFontSize": 28, "titleX": 843, "titleY": 19, "titleAlign": "left", "titleBaseline": "alphabetic"}},
   "y": {"field": "p", "type": "quantitative", "scale": {"domain": [-0.815, 1.277], "nice": false, "zero": false},
     "axis": {"values": [-0.5, 0, 0.5, 1], "format": ".1f", "labelPadding": 17, "title": "P,μW", "titleAngle": 0, "titleX": -93, "titleY": -44, "titleAlign": "left", "titleBaseline": "alphabetic"}}
  }
 }
]
}
